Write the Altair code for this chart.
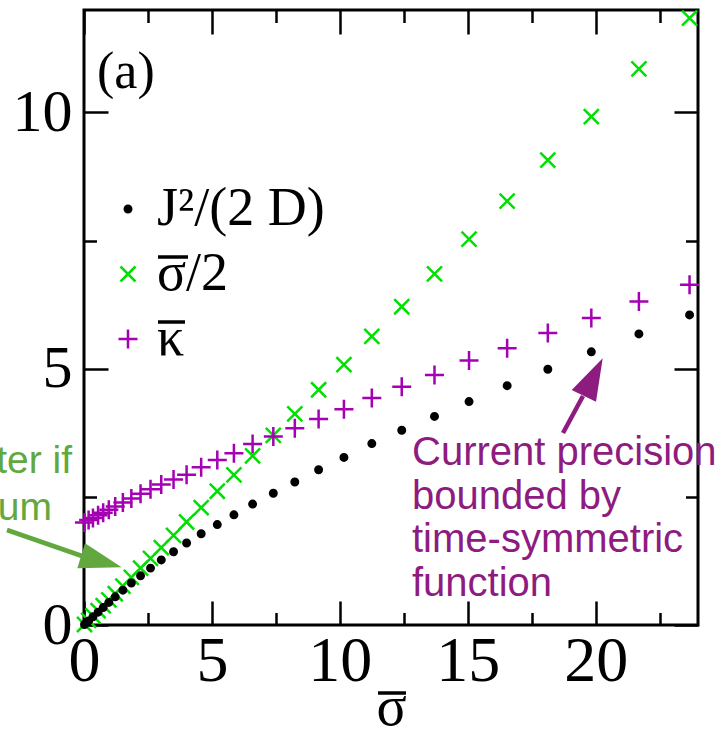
import altair as alt
import pandas as pd

# ---- data ----
sigma_bar = [0.02, 0.18, 0.35, 0.55, 0.75, 0.97, 1.22, 1.52, 1.85, 2.21, 2.60,
             3.02, 3.50, 4.01, 4.58, 5.21, 5.86, 6.59, 7.40, 8.24, 9.17, 10.16,
             11.25, 12.42, 13.70, 15.05, 16.54, 18.13, 19.83, 21.69, 23.67]
j2_over_2d = [0.01, 0.08, 0.16, 0.25, 0.34, 0.44, 0.55, 0.68, 0.82, 0.96, 1.11,
              1.27, 1.43, 1.60, 1.78, 1.96, 2.15, 2.36, 2.57, 2.79, 3.03, 3.27,
              3.54, 3.80, 4.07, 4.36, 4.67, 4.99, 5.33, 5.68, 6.05]
sigma_half = [0.01, 0.09, 0.18, 0.28, 0.38, 0.49, 0.61, 0.76, 0.93, 1.11, 1.30,
              1.51, 1.75, 2.01, 2.29, 2.61, 2.93, 3.30, 3.70, 4.12, 4.59, 5.08,
              5.63, 6.21, 6.85, 7.53, 8.27, 9.07, 9.92, 10.85, 11.84]
kappa_bar = [2.00, 2.05, 2.09, 2.14, 2.19, 2.25, 2.31, 2.39, 2.47, 2.56, 2.65,
             2.74, 2.84, 2.93, 3.08, 3.22, 3.35, 3.53, 3.68, 3.84, 4.02, 4.21,
             4.43, 4.65, 4.88, 5.16, 5.40, 5.70, 5.99, 6.31, 6.64]

# legend labels (the bars over sigma and kappa are drawn as small rules)
series_names = ["J²/(2 D)", "σ/2", "κ"]
x_major = [0, 5, 10, 15, 20]
x_minor = [2.5, 7.5, 12.5, 17.5, 22.5]
y_major = [0, 5, 10]
y_minor = [2.5, 7.5]
purple_lines = ["Current precision", "bounded by", "time-symmetric", "function"]
green_lines = ["ter if", "um"]

rows = []
for name, ys in [(series_names[1], sigma_half), (series_names[2], kappa_bar),
                 (series_names[0], j2_over_2d)]:
    for xv, yv in zip(sigma_bar, ys):
        rows.append({"x": xv, "y": yv, "series": name})
df = pd.DataFrame(rows)

SERIF = "Liberation Serif"
SANS = "Liberation Sans"
GREEN = "#00e000"
PURPLE = "#a400b4"
ANN_PURPLE = "#8e1b7f"
ANN_GREEN = "#62a83e"

xscale = alt.Scale(domain=[0, 24], nice=False, zero=False)
yscale = alt.Scale(domain=[0, 12], nice=False, zero=False)

PLUS = "M-1,0H1M0,-1V1"
XSHAPE = "M-0.79,-0.79L0.79,0.79M-0.79,0.79L0.79,-0.79"
DOT = "M-0.34,0A0.34,0.34 0 1,0 0.34,0A0.34,0.34 0 1,0 -0.34,0Z"


def axis(orient, values, length, labels=False, **kw):
    return alt.Axis(orient=orient, values=values, offset=-length, tickSize=length,
                    tickWidth=2.5, tickColor="black", domain=False, grid=False,
                    labels=labels, **kw)


x_main_axis = axis("bottom", x_major, 24, labels=True, format="d",
                   labelFont=SERIF, labelFontSize=64, labelColor="black",
                   labelPadding=4, labelFlush=False, labelOverlap=False,
                   title="σ", titleFont=SERIF, titleFontSize=56,
                   titleFontWeight="normal", titleColor="black",
                   titleBaseline="alphabetic", titleY=123)
y_main_axis = axis("left", y_major, 24, labels=True, format="d",
                   labelFont=SERIF, labelFontSize=60, labelColor="black",
                   labelPadding=12, labelFlush=False, labelOverlap=False,
                   title=None)

points = alt.Chart(df).mark_point(filled=False, strokeWidth=2.5, opacity=1,
                                  size=361).encode(
    x=alt.X("x:Q", scale=xscale, axis=x_main_axis),
    y=alt.Y("y:Q", scale=yscale, axis=y_main_axis),
    color=alt.Color("series:N",
                    scale=alt.Scale(domain=series_names, range=["black", GREEN, PURPLE]),
                    legend=alt.Legend(orient="none", legendX=17, legendY=172, title=None,
                                      labelFont=SERIF, labelFontSize=54,
                                      labelColor="black", symbolStrokeWidth=2.5,
                                      symbolSize=361, rowPadding=11, labelOffset=2,
                                      padding=0, labelLimit=0)),
    shape=alt.Shape("series:N",
                    scale=alt.Scale(domain=series_names, range=[DOT, XSHAPE, PLUS])),
    fill=alt.Fill("series:N",
                  scale=alt.Scale(domain=series_names,
                                  range=["black", "transparent", "transparent"])),
)


def tick_layer(xax, yax):
    return alt.Chart(df).mark_point(opacity=0).encode(
        x=alt.X("x:Q", scale=xscale, axis=xax),
        y=alt.Y("y:Q", scale=yscale, axis=yax),
    )


minor_bl = tick_layer(axis("bottom", x_minor, 12.5, title=None),
                      axis("left", y_minor, 12.5, title=None))
major_tr = tick_layer(axis("top", x_major, 24, title=None),
                      axis("right", y_major, 24, title=None))
minor_tr = tick_layer(axis("top", x_minor, 12.5, title=None),
                      axis("right", y_minor, 12.5, title=None))

one = pd.DataFrame({"k": [0]})


def bar(x1, x2, y):
    return alt.Chart(one).mark_rule(strokeWidth=3.5, color="black").encode(
        x=alt.value(x1), x2=alt.value(x2), y=alt.value(y), y2=alt.value(y))


label_a = alt.Chart(one).mark_text(text="(a)", align="left", baseline="alphabetic",
                                   font=SERIF, fontSize=52, color="black").encode(
    x=alt.value(13), y=alt.value(78))

purple_text = alt.Chart(one).mark_text(text=purple_lines, align="left",
                                       baseline="alphabetic", font=SANS, fontSize=40,
                                       lineHeight=43.5, color=ANN_PURPLE).encode(
    x=alt.value(328), y=alt.value(455))

green_text1 = alt.Chart(one).mark_text(text=green_lines[0], align="right",
                                       baseline="alphabetic", font=SANS, fontSize=39,
                                       color=ANN_GREEN).encode(
    x=alt.value(-12), y=alt.value(463))
green_text2 = alt.Chart(one).mark_text(text=green_lines[1], align="right",
                                       baseline="alphabetic", font=SANS, fontSize=39,
                                       color=ANN_GREEN).encode(
    x=alt.value(-32), y=alt.value(510))

green_shaft = alt.Chart(one).mark_rule(strokeWidth=4.5, color=ANN_GREEN).encode(
    x=alt.value(-77), y=alt.value(520), x2=alt.value(-2), y2=alt.value(546))
green_head = alt.Chart(one).mark_point(
    shape="M-0.652,-0.552L-0.987,0.535L0.943,0.491Z", filled=True, size=2116,
    color=ANN_GREEN, opacity=1, strokeWidth=0).encode(
    x=alt.value(16), y=alt.value(546))

purple_shaft = alt.Chart(one).mark_rule(strokeWidth=4.5, color=ANN_PURPLE).encode(
    x=alt.value(479), y=alt.value(423), x2=alt.value(499), y2=alt.value(386))
purple_head = alt.Chart(one).mark_point(
    shape="M0.508,-0.988L-0.732,0.28L0.24,0.748Z", filled=True, size=2500,
    color=ANN_PURPLE, opacity=1, strokeWidth=0).encode(
    x=alt.value(506), y=alt.value(373))

chart = alt.layer(
    minor_bl, major_tr, minor_tr, points,
    label_a, purple_text, green_text1, green_text2,
    green_shaft, green_head, purple_shaft, purple_head,
    bar(74, 104, 247), bar(74, 101, 312), bar(294, 322, 683),
).resolve_axis(x="independent", y="independent").properties(
    width=614, height=615,
    padding={"left": 84, "top": 10, "right": 20, "bottom": 110},
    autosize=alt.AutoSizeParams(type="none"),
).configure_view(stroke="black", strokeWidth=3)

chart.save("out.html", embed_options={"renderer": "svg", "actions": False})
